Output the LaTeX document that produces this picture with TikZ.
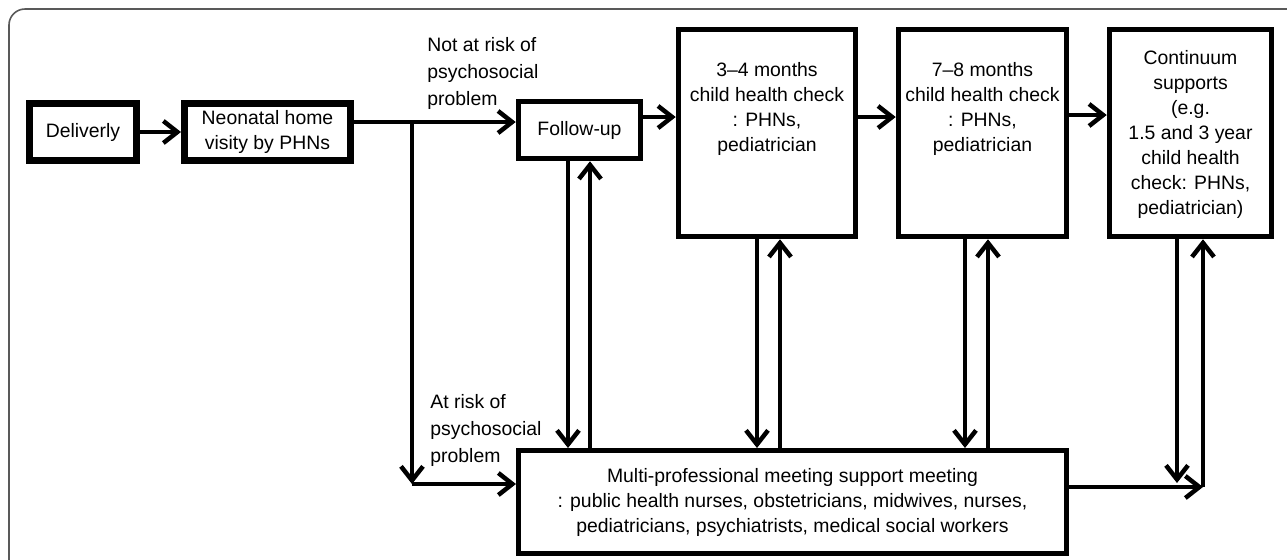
\documentclass[tikz,border=0pt]{standalone}
\usepackage{fontspec}
\setmainfont{Liberation Sans}
\usetikzlibrary{arrows.meta, positioning}
\tikzstyle{stage}=[draw, line width=2.75pt, align=center, inner sep=0pt, font=\fontsize{9.7}{12.5}\selectfont]
\tikzstyle{tall}=[stage, minimum height=103.5pt]
\tikzstyle{boxtext}=[align=center, inner sep=0pt, anchor=north, font=\fontsize{9.7}{12.5}\selectfont]
\tikzstyle{lbl}=[anchor=north west, align=left, inner sep=0pt, font=\fontsize{9.7}{13.5}\selectfont]
\tikzstyle{link}=[line width=2.25pt]
\tikzstyle{arr}=[link, -{Straight Barb[length=7pt, width=11pt]}]

\begin{document}
\begin{tikzpicture}[x=0.5pt, y=-0.5pt]
    \useasboundingbox (0,0) rectangle (1287,559);
    \draw[gray!70!black, line width=0.8pt, rounded corners=8pt] (9,9) rectangle (1330,600);
    % upper row
    \node[stage, line width=3.5pt, minimum width=53.5pt, minimum height=28.5pt] (deliv) at (83,132) {Deliverly};
    \node[stage, line width=3.5pt, minimum width=83pt, minimum height=28.5pt] (neo) at (267.5,132) {Neonatal home\\visity by PHNs};
    \node[stage, minimum width=61pt, minimum height=28.5pt] (follow) at (579.5,130) {Follow-up};
    \node[tall, minimum width=88.5pt] (m34) at (767,133) {};
    \node[tall, minimum width=84pt] (m78) at (982.5,133) {};
    \node[tall, minimum width=81pt] (cont) at (1190.5,133) {};
    \node[boxtext, below=17.5pt of m34.north] (m34txt) {3--4 months\\child health check\\: PHNs,\\pediatrician};
    \node[boxtext, below=17.5pt of m78.north] (m78txt) {7--8 months\\child health check\\: PHNs,\\pediatrician};
    \node[boxtext, below=11.5pt of cont.north] (conttxt) {Continuum\\supports\\(e.g.\\1.5 and 3 year\\child health\\check: PHNs,\\pediatrician)};
    % meeting
    \node[stage, line width=2.5pt, minimum width=274pt, minimum height=51.5pt] (multi) at (792.5,502)
        {Multi-professional meeting support meeting\\: public health nurses, obstetricians, midwives, nurses,\\pediatricians, psychiatrists, medical social workers};
    % labels
    \node[lbl] (norisk) at (427,37) {Not at risk of\\psychosocial\\problem};
    \node[lbl] (risk) at (430,394) {At risk of\\psychosocial\\problem};
    % junctions
    \coordinate (split) at (412,122);
    \coordinate (bend) at (412,484);
    \coordinate (row) at (0,117);
    \coordinate (meet) at (1203,487);
    \coordinate (drop) at (1177,483);
    % connectors
    \draw[arr] (deliv) -- (neo);
    \draw[link] (neo.east |- split) -- (split);
    \draw[arr] (split) -- (follow.west |- split);
    \draw[arr] (split) -- (bend);
    \draw[arr] (bend) -- (multi.west |- bend);
    \draw[arr] (follow.east |- row) -- (m34.west |- row);
    \draw[arr] (m34.east |- row) -- (m78.west |- row);
    \draw[arr] ([yshift=1pt]m78.east |- row) -- ([yshift=1pt]cont.west |- row);
    \foreach \nd/\dn/\up in {follow/-11.5/10.5, m34/-10/13, m78/-17.5/5.5} {
        \draw[arr] ([xshift=\dn*0.5pt]\nd.south) -- ([xshift=\dn*0.5pt]\nd.south |- multi.north);
        \draw[arr] ([xshift=\up*0.5pt]\nd.south |- multi.north) -- ([xshift=\up*0.5pt]\nd.south);
    }
    \draw[arr] (drop |- cont.south) -- (drop);
    \draw[arr] (multi.east |- meet) -- (meet);
    \draw[arr] (meet) -- (meet |- cont.south);
\end{tikzpicture}
\end{document}
